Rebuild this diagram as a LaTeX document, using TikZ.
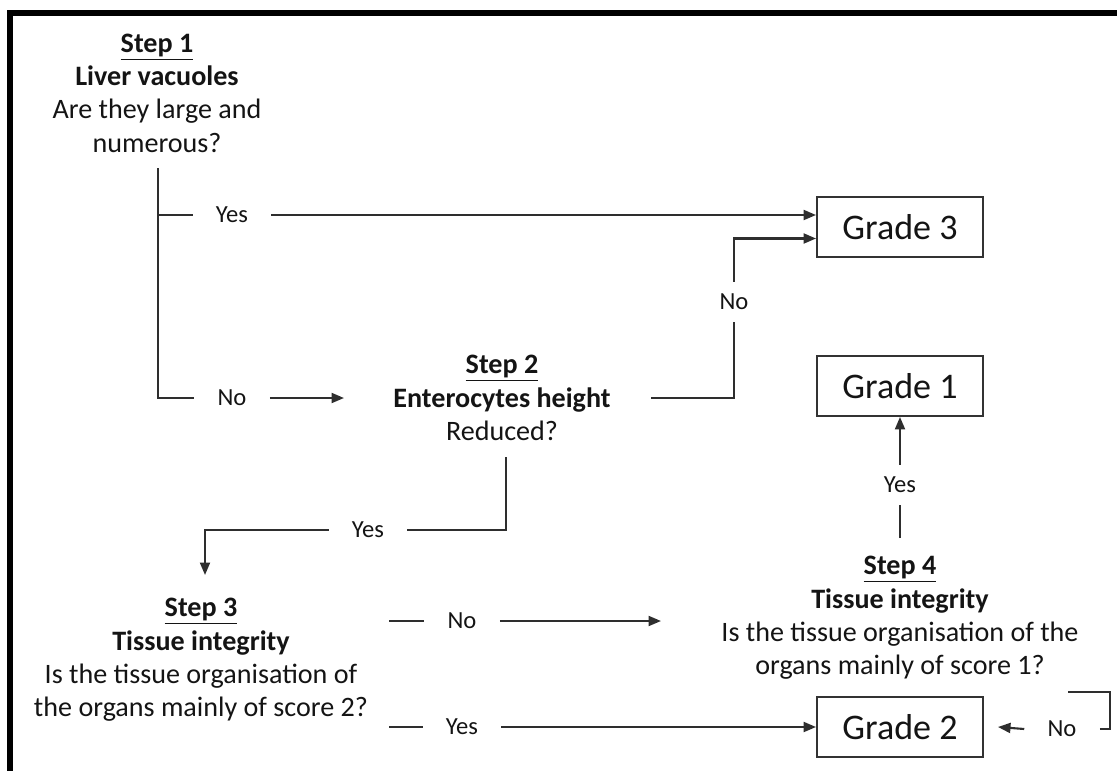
\documentclass[tikz,border=0pt]{standalone}
\usepackage{fontspec}
\setmainfont{Carlito}
\usetikzlibrary{arrows.meta,calc}

\begin{document}
\begin{tikzpicture}[x=0.02cm,y=-0.02cm]
\tikzset{
	q/.style={align=center, text=black!92, font=\fontsize{16}{19}\selectfont},
	g/.style={draw=black!80, line width=1.1pt, minimum width=3.32cm, minimum height=1.2cm, text=black!92, font=\fontsize{20.5}{24}\selectfont},
	l/.style={text=black!92, font=\fontsize{14}{16}\selectfont, inner xsep=0.46cm, inner ysep=0.24cm},
	c/.style={draw=black!82, line width=1.2pt},
	ar/.style={c, -{Triangle[length=0.25cm,width=0.2cm]}}
}

\useasboundingbox (0,0) rectangle (1117,771);

% Rahmen (rechts und unten abgeschnitten)
\draw[line width=3pt] (10,771) -- (10,13) -- (1117,13);

% Schritte
\node[q] (s1) at (157,93) {\textbf{\underline{Step 1}}\\\textbf{Liver vacuoles}\\Are they large and\\numerous?};
\node[q] (s2) at (502,398) {\textbf{\underline{Step 2}}\\\textbf{Enterocytes height}\\Reduced?};
\node[q] (s3) at (201,660) {\textbf{\underline{Step 3}}\\\textbf{Tissue integrity}\\Is the tissue organisation of\\the organs mainly of score 2?};
\node[q] (s4) at (900,618) {\textbf{\underline{Step 4}}\\\textbf{Tissue integrity}\\Is the tissue organisation of the\\organs mainly of score 1?};

% Grade
\node[g] (g3) at (900,227) {Grade 3};
\node[g] (g1) at (900,386) {Grade 1};
\node[g] (g2) at (900,727) {Grade 2};

% Ja / Nein
\node[l] (yes1) at (232,215) {Yes};
\node[l] (no1)  at (232,398) {No};
\node[l] (no2)  at (734,302) {No};
\node[l] (yes2) at (368,530) {Yes};
\node[l] (no3)  at (462,621) {No};
\node[l] (yes3) at (462,727) {Yes};
\node[l] (yes4) at (900,485) {Yes};
\node[l] (no4)  at (1062,729) {No};

% Hilfspunkte
\coordinate (s1b) at (158,168);
\coordinate (n1) at (344,398);
\coordinate (s2r) at (651,398);
\coordinate (s2b) at (506,457);
\coordinate (s3t) at (205,575);
\coordinate (d3a) at (389,621);
\coordinate (d3b) at (389,727);
\coordinate (n3) at (661,621);
\coordinate (s4t) at (900,538);
\coordinate (n4) at (998,727);
\coordinate (br1) at (1110,692);
\coordinate (br2) at (1068,692);

% Schritt 1
\draw[c] (s1b) |- (no1.west);
\draw[c] (s1b |- yes1.west) -- (yes1.west);
\draw[ar] (yes1.east) -- (yes1.east -| g3.west);
\draw[ar] (no1.east) -- (n1);

% Schritt 2
\draw[c] (s2r) -| (no2.south);
\draw[ar] (no2.north) |- ($(g3.west)+(0,11.5)$);
\draw[c] (s2b) |- (yes2.east);
\draw[ar] (yes2.west) -| (s3t);

% Schritt 3
\draw[c] (d3a) -- (no3.west);
\draw[ar] (no3.east) -- (n3);
\draw[c] (d3b) -- (yes3.west);
\draw[ar] (yes3.east) -- (yes3.east -| g2.west);

% Schritt 4
\draw[c] (s4t) -- (yes4.south);
\draw[ar] (yes4.north) -- (g1.south);
\draw[ar] (no4.west) -- (n4);
\draw[c] (no4.east) -| (br1) -- (br2);

\end{tikzpicture}
\end{document}
